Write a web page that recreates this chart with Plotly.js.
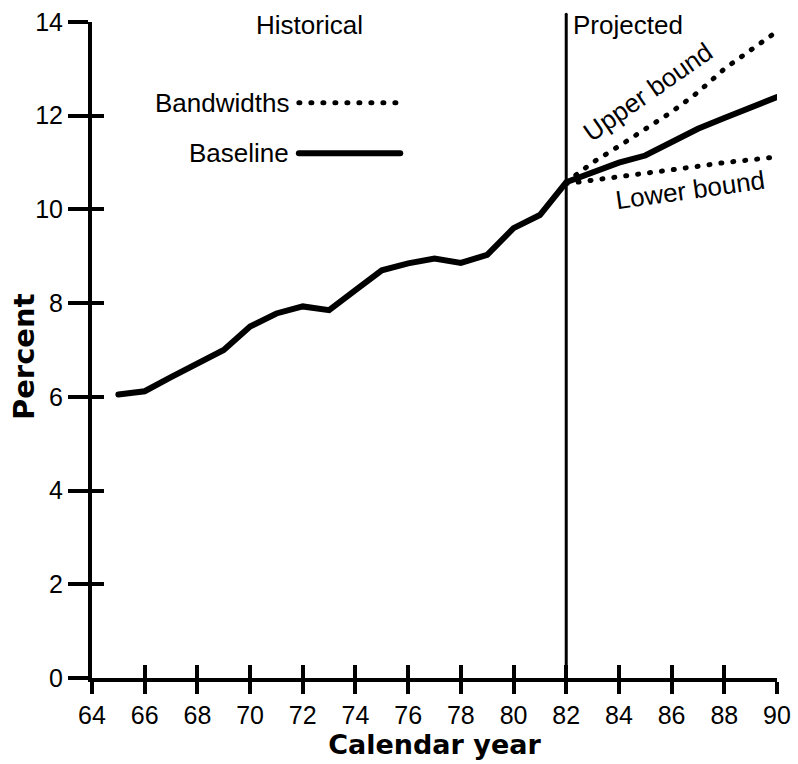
<!DOCTYPE html>
<html>
<head>
<meta charset="utf-8">
<script src="https://cdn.plot.ly/plotly-3.0.1.min.js"></script>
<style>
  body { margin: 0; background: #fff; }
  #fig { width: 798px; height: 764px; }
  /* round ends so the dotted bands come out as dots, like the print */
  #fig path.js-line, #fig .shapelayer path { stroke-linecap: round; }
</style>
</head>
<body>
<div id="fig"></div>
<script>
// calendar years (19xx) and the baseline percent, historical + projected
const years = [65, 66, 67, 68, 69, 70, 71, 72, 73, 74, 75, 76, 77, 78, 79, 80, 81,
               82, 83, 84, 85, 86, 87, 88, 89, 90];
const baseline = [6.05, 6.12, 6.42, 6.72, 7.0, 7.5, 7.78, 7.93, 7.85, 8.28, 8.7, 8.85, 8.95,
                  8.86, 9.03, 9.6, 9.88, 10.58, 10.8, 11.0, 11.15, 11.45, 11.72, 11.95, 12.18, 12.4];

// projected bandwidths
const bandYears = [82, 83, 84, 85, 86, 87, 88, 89, 90];
const upperBound = [10.58, 11.0, 11.35, 11.72, 12.08, 12.5, 13.0, 13.4, 13.8];
const lowerBound = [10.55, 10.62, 10.7, 10.78, 10.85, 10.92, 11.0, 11.06, 11.12];

const xTicks = [64, 66, 68, 70, 72, 74, 76, 78, 80, 82, 84, 86, 88, 90];
const yTicks = [0, 2, 4, 6, 8, 10, 12, 14];
const splitYear = 82;

const txtFont = "Liberation Sans, Arial, sans-serif";
const boldFont = "DejaVu Sans, sans-serif";
const dotDash = "1px,11px";

const traces = [
  { x: years, y: baseline, mode: 'lines', name: 'Baseline',
    line: { color: '#000', width: 6 } },
  { x: bandYears, y: upperBound, mode: 'lines', name: 'Upper bound',
    line: { color: '#000', width: 5, dash: dotDash } },
  { x: bandYears, y: lowerBound, mode: 'lines', name: 'Lower bound',
    line: { color: '#000', width: 5, dash: dotDash } },
  // empty trace so the overlay axes (inner half of the ticks) get drawn
  { x: [], y: [], xaxis: 'x2', yaxis: 'y2', showlegend: false, hoverinfo: 'skip' }
];

const axBase = { showgrid: false, zeroline: false, color: '#000',
                 tickcolor: '#000', tickwidth: 4, fixedrange: true };

const layout = {
  width: 798, height: 764,
  margin: { l: 92, r: 21, t: 22, b: 86 },
  paper_bgcolor: '#fff', plot_bgcolor: '#fff',
  showlegend: false,
  font: { family: txtFont, color: '#000' },
  xaxis: Object.assign({}, axBase, {
    range: [64, 90], tickvals: xTicks, ticks: 'outside', ticklen: 12,
    showline: true, linewidth: 4, linecolor: '#000',
    tickfont: { size: 25, family: txtFont },
    title: { text: 'Calendar year', standoff: 4,
             font: { size: 27, family: boldFont, weight: 'bold' } }
  }),
  yaxis: Object.assign({}, axBase, {
    range: [0, 14], tickvals: yTicks, ticks: 'outside', ticklen: 20,
    showline: true, linewidth: 4, linecolor: '#000',
    tickfont: { size: 25, family: txtFont }
  }),
  xaxis2: Object.assign({}, axBase, {
    overlaying: 'x', anchor: 'y', matches: 'x', range: [64, 90],
    tickvals: xTicks, ticks: 'inside', ticklen: 13, showticklabels: false
  }),
  yaxis2: Object.assign({}, axBase, {
    overlaying: 'y', anchor: 'x', matches: 'y', range: [0, 14], side: 'left',
    tickvals: yTicks, ticks: 'inside', ticklen: 12, showticklabels: false
  }),
  shapes: [
    // divider between historical and projected
    { type: 'line', xref: 'x', yref: 'paper', x0: splitYear, x1: splitYear,
      y0: 0, y1: 1.012, line: { color: '#000', width: 3 } },
    // legend samples
    { type: 'line', xref: 'paper', yref: 'paper', x0: 0.302, x1: 0.445,
      y0: 0.877, y1: 0.877, line: { color: '#000', width: 5, dash: dotDash } },
    { type: 'line', xref: 'paper', yref: 'paper', x0: 0.302, x1: 0.45,
      y0: 0.80, y1: 0.80, line: { color: '#000', width: 6 } }
  ],
  annotations: [
    // y title sits closer to the ticks than plotly's own title would
    { text: 'Percent', xref: 'paper', yref: 'paper', x: -0.1, y: 0.49,
      textangle: -90, xanchor: 'center', yanchor: 'middle', showarrow: false,
      font: { size: 29, family: boldFont, weight: 'bold' } },
    { text: 'Historical', xref: 'paper', yref: 'paper', x: 0.318, y: 0.995,
      xanchor: 'center', yanchor: 'middle', showarrow: false, font: { size: 26 } },
    { text: 'Projected', xref: 'paper', yref: 'paper', x: 0.782, y: 0.995,
      xanchor: 'center', yanchor: 'middle', showarrow: false, font: { size: 26 } },
    { text: 'Bandwidths', xref: 'paper', yref: 'paper', x: 0.29, y: 0.877,
      xanchor: 'right', yanchor: 'middle', showarrow: false, font: { size: 26 } },
    { text: 'Baseline', xref: 'paper', yref: 'paper', x: 0.29, y: 0.80,
      xanchor: 'right', yanchor: 'middle', showarrow: false, font: { size: 26 } },
    { text: 'Upper bound', x: 85.1, y: 12.5, textangle: -35,
      xanchor: 'center', yanchor: 'middle', showarrow: false, font: { size: 26 } },
    { text: 'Lower bound', x: 86.7, y: 10.42, textangle: -8,
      xanchor: 'center', yanchor: 'middle', showarrow: false, font: { size: 26 } }
  ]
};

Plotly.newPlot('fig', traces, layout, { displayModeBar: false, staticPlot: true });
</script>
</body>
</html>
